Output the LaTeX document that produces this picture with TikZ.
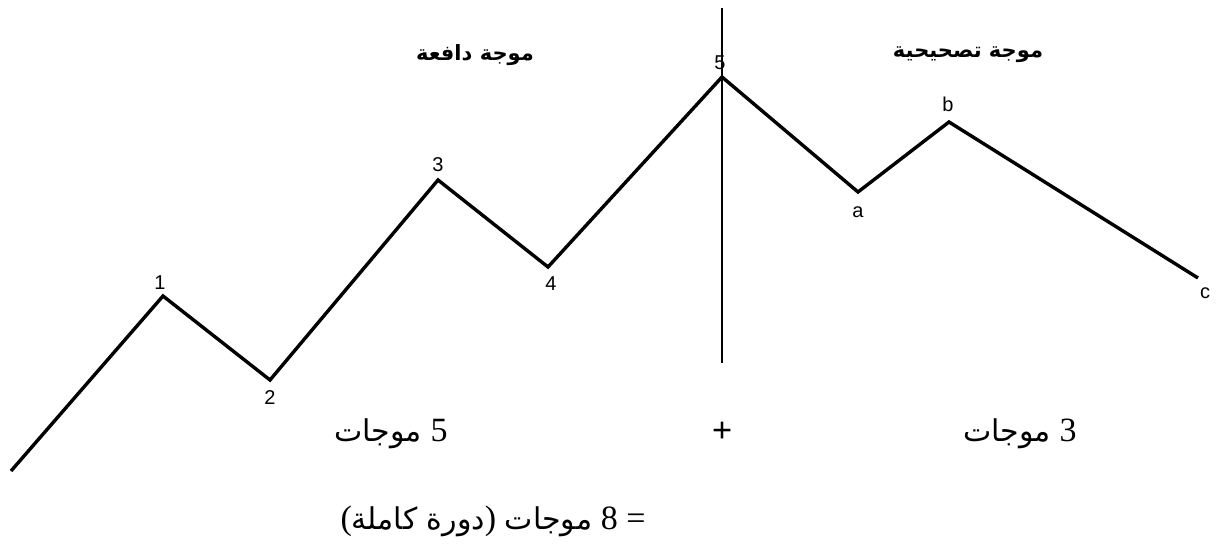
\documentclass[tikz,border=0pt]{standalone}
\usepackage{fontspec}
\setmainfont{Liberation Serif}
\newfontfamily\arabicfont[Script=Arabic]{DejaVu Sans}
\newfontfamily\lbl{Liberation Sans}
\TeXXeTstate=1
\newcommand{\ar}[1]{{\arabicfont\fontsize{30}{32}\selectfont\beginR #1\endR}}
\begin{document}
\begin{tikzpicture}[x=1pt,y=-1pt,
  wave/.style={line width=3.4pt,line join=miter},
  ptlabel/.style={font=\lbl\fontsize{20}{20}\selectfont,inner sep=0pt},
  title/.style={font=\arabicfont\bfseries\fontsize{21}{23}\selectfont,inner sep=0pt},
  count/.style={font=\fontsize{34}{36}\selectfont,inner sep=0pt}]
\useasboundingbox[fill=white] (0,0) rectangle (1218,556);
\coordinate (s) at (11,471);
\coordinate (p1) at (163,296);
\coordinate (p2) at (270,380);
\coordinate (p3) at (438,180);
\coordinate (p4) at (548,267);
\coordinate (p5) at (722,77);
\coordinate (pa) at (858,192);
\coordinate (pb) at (949,122);
\coordinate (pc) at (1198,278);
\coordinate (vt) at (722,8);
\coordinate (vb) at (722,363);
\draw[line width=1.2pt] (vt) -- (vb);
\draw[wave] (s) -- (p1) -- (p2) -- (p3) -- (p4) -- (p5) -- (pa) -- (pb) -- (pc);
\node[ptlabel] (l1) at (160,283) {1};
\node[ptlabel] (l2) at (270,398) {2};
\node[ptlabel] (l3) at (438,165) {3};
\node[ptlabel] (l4) at (551,284) {4};
\node[ptlabel] (l5) at (720,63) {5};
\node[ptlabel] (la) at (858,212) {a};
\node[ptlabel] (lb) at (948,104) {b};
\node[ptlabel] (lc) at (1205,293) {c};
\node[title] (t1) at (475,55) {\beginR موجة دافعة\endR};
\node[title] (t2) at (968,55) {\beginR موجة تصحيحية\endR};
\node[count] (c1) at (391,434) {\ar{موجات}\ 5};
\node[font=\bfseries\fontsize{36}{38}\selectfont,inner sep=0pt] (plus) at (722,432) {+};
\node[count] (tot) at (493,521) {(\ar{دورة كاملة})\ \ar{موجات}\ 8\ =};
\node[count] (c2) at (1020,434) {\ar{موجات}\ 3};
\end{tikzpicture}
\end{document}
